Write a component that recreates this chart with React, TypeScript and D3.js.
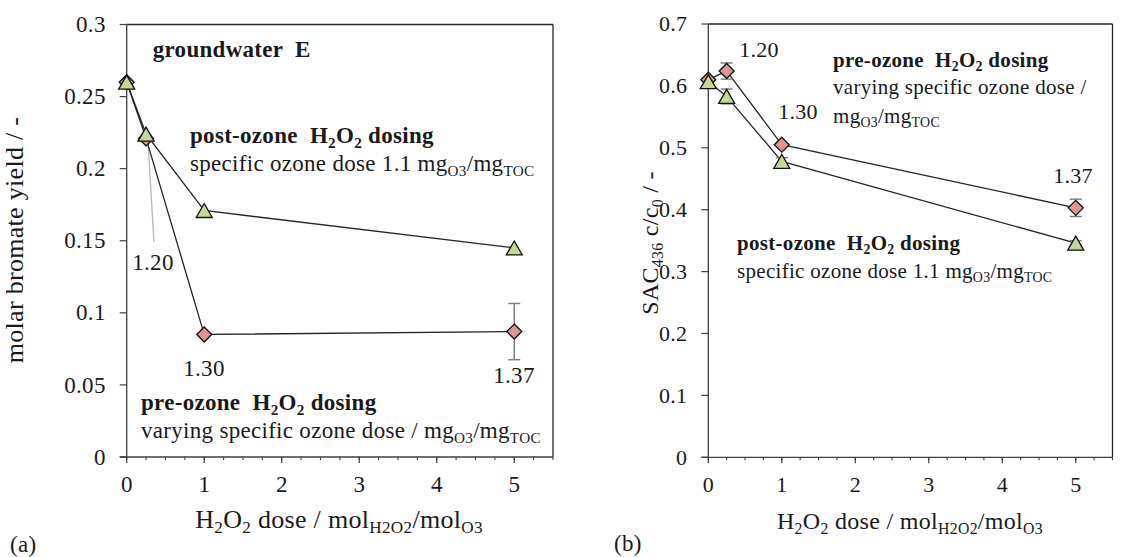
import React from "react";
import * as d3 from "d3";

// ---------- data ----------
const doseX = [0, 0.25, 1, 5];

// (a) molar bromate yield
const bromatePost = [0.26, 0.224, 0.171, 0.145];
const bromatePre = [0.26, 0.221, 0.085, 0.087];
const bromatePreErr = [0, 0, 0, 0.0195];

// (b) SAC436 c/c0
const sacPost = [0.607, 0.583, 0.478, 0.346];
const sacPostErr = [0, 0.012, 0.006, 0.004];
const sacPre = [0.61, 0.624, 0.505, 0.403];
const sacPreErr = [0, 0.013, 0, 0.014];

// specific ozone dose labels for the pre-ozone series
const ozoneDoseLabels = ["1.20", "1.30", "1.37"];

const xTicks = [0, 1, 2, 3, 4, 5];
const xMinorTicks = d3.range(0, 5.5001, 0.25);
const yTicksA = [0, 0.05, 0.1, 0.15, 0.2, 0.25, 0.3];
const yTickLabelsA = ["0", "0.05", "0.1", "0.15", "0.2", "0.25", "0.3"];
const yTicksB = [0, 0.1, 0.2, 0.3, 0.4, 0.5, 0.6, 0.7];
const yTickLabelsB = ["0", "0.1", "0.2", "0.3", "0.4", "0.5", "0.6", "0.7"];

// ---------- style ----------
const FONT = "Liberation Serif";
const TRI_FILL = "#c4d79b";
const DIA_FILL = "#da9694";
const LINE = "#262626";
const AXIS = "#404040";
const ERR = "#808080";
const TXT_A = 23; // panel (a) text size
const TITLE_A = 26;
const TXT_B = 21; // panel (b) text size
const TITLE_B = 24;

type Seg = { t: string; sub?: boolean };

function Rich({ x, y, segs, size, bold, anchor = "start", transform, spacing = 0.3 }: {
  x: number; y: number; segs: Seg[]; size: number; bold?: boolean; anchor?: string; transform?: string; spacing?: number;
}) {
  return (
    <text x={x} y={y} textAnchor={anchor} fill="#1a1a1a" transform={transform}
      style={{ fontFamily: FONT, fontSize: size, fontWeight: bold ? 700 : 400, whiteSpace: "pre", letterSpacing: spacing }}>
      {segs.map((s, i) => (
        <tspan key={i} baselineShift={s.sub ? -size * 0.2 : 0} style={{ fontSize: s.sub ? size * 0.66 : size }}>
          {s.t}
        </tspan>
      ))}
    </text>
  );
}

const h2o2: Seg[] = [{ t: "H" }, { t: "2", sub: true }, { t: "O" }, { t: "2", sub: true }];
const xTitle: Seg[] = [...h2o2, { t: " dose / mol" }, { t: "H2O2", sub: true }, { t: "/mol" }, { t: "O3", sub: true }];
const mgUnit: Seg[] = [{ t: "mg" }, { t: "O3", sub: true }, { t: "/mg" }, { t: "TOC", sub: true }];

function triPath(cx: number, cy: number) {
  const w = 8, h = 7;
  return `M${cx},${cy - h}L${cx + w},${cy + h}L${cx - w},${cy + h}Z`;
}
function diaPath(cx: number, cy: number) {
  const r = 7.5;
  return `M${cx},${cy - r}L${cx + r},${cy}L${cx},${cy + r}L${cx - r},${cy}Z`;
}

function Panel({ xr, yr, yMax, yTicks, yLabels, post, pre, postErr, preErr, tickSize, children }: any) {
  const x = d3.scaleLinear().domain([0, 5.5]).range(xr);
  const y = d3.scaleLinear().domain([0, yMax]).range(yr);
  const line = d3.line<number>().x((_, i) => x(doseX[i])).y((v) => y(v));
  const errBar = (vals: number[], errs: number[], key: string) =>
    vals.map((v, i) =>
      errs[i] > 0 ? (
        <g key={key + i} stroke={ERR} strokeWidth={1.5}>
          <line x1={x(doseX[i])} x2={x(doseX[i])} y1={y(v - errs[i])} y2={y(v + errs[i])} />
          <line x1={x(doseX[i]) - 6} x2={x(doseX[i]) + 6} y1={y(v - errs[i])} y2={y(v - errs[i])} />
          <line x1={x(doseX[i]) - 6} x2={x(doseX[i]) + 6} y1={y(v + errs[i])} y2={y(v + errs[i])} />
        </g>
      ) : null
    );
  return (
    <g>
      {/* plot frame */}
      <line x1={xr[0]} x2={xr[1]} y1={yr[1]} y2={yr[1]} stroke={LINE} strokeWidth={1.3} />
      <line x1={xr[1]} x2={xr[1]} y1={yr[1]} y2={yr[0]} stroke={LINE} strokeWidth={1.3} />
      {/* y axis */}
      <line x1={xr[0]} x2={xr[0]} y1={yr[0]} y2={yr[1]} stroke={AXIS} strokeWidth={1.3} />
      {yTicks.map((t: number, i: number) => (
        <g key={"y" + i}>
          <line x1={xr[0] - 7} x2={xr[0]} y1={y(t)} y2={y(t)} stroke={AXIS} strokeWidth={1.2} />
          <text x={xr[0] - 21} y={y(t) + tickSize * 0.33} textAnchor="end" fill="#1a1a1a"
            style={{ fontFamily: FONT, fontSize: tickSize, letterSpacing: 0.3 }}>
            {yLabels[i]}
          </text>
        </g>
      ))}
      {/* x axis */}
      <line x1={xr[0] - 7} x2={xr[1]} y1={yr[0]} y2={yr[0]} stroke={AXIS} strokeWidth={1.3} />
      {xMinorTicks.map((t, i) => (
        <line key={"xm" + i} x1={x(t)} x2={x(t)} y1={yr[0]} y2={yr[0] + 3} stroke={AXIS} strokeWidth={1.1} />
      ))}
      {xTicks.map((t) => (
        <g key={"x" + t}>
          <line x1={x(t)} x2={x(t)} y1={yr[0]} y2={yr[0] + 6} stroke={AXIS} strokeWidth={1.2} />
          <text x={x(t)} y={yr[0] + 35} textAnchor="middle" fill="#1a1a1a"
            style={{ fontFamily: FONT, fontSize: tickSize }}>
            {t}
          </text>
        </g>
      ))}
      {children && children(x, y)}
      {/* series */}
      <path d={line(pre) || ""} fill="none" stroke={LINE} strokeWidth={1.3} />
      <path d={line(post) || ""} fill="none" stroke={LINE} strokeWidth={1.3} />
      {errBar(pre, preErr, "pe")}
      {errBar(post, postErr, "po")}
      {pre.map((v: number, i: number) => (
        <path key={"d" + i} d={diaPath(x(doseX[i]), y(v))} fill={DIA_FILL} stroke="#111" strokeWidth={1.3} />
      ))}
      {post.map((v: number, i: number) => (
        <path key={"t" + i} d={triPath(x(doseX[i]), y(v))} fill={TRI_FILL} stroke="#111" strokeWidth={1.3} />
      ))}
    </g>
  );
}

export default function App() {
  const xrA = [126.7, 553];
  const yrA = [457, 24.5];
  const xrB = [708.3, 1112.5];
  const yrB = [457.3, 24];
  return (
    <svg width={1148} height={557} style={{ position: "absolute", left: 0, top: 0, background: "#fff" }}>
      {/* ---- (a) bromate yield ---- */}
      <Panel xr={xrA} yr={yrA} yMax={0.3} yTicks={yTicksA} yLabels={yTickLabelsA} tickSize={23}
        post={bromatePost} pre={bromatePre} postErr={[0, 0, 0, 0]} preErr={bromatePreErr}>
        {(x: any, y: any) => (
          <line x1={x(0.275)} y1={y(0.2184)} x2={x(0.352)} y2={y(0.149)} stroke="#b8b8b8" strokeWidth={1.3} />
        )}
      </Panel>
      <Rich x={152.7} y={57} size={TXT_A} bold segs={[{ t: "groundwater  E" }]} />
      <Rich x={190} y={143} size={TXT_A} bold segs={[{ t: "post-ozone  " }, ...h2o2, { t: " dosing" }]} />
      <Rich x={190} y={171} size={TXT_A} segs={[{ t: "specific ozone dose 1.1 " }, ...mgUnit]} />
      <Rich x={141} y={410} size={TXT_A} bold segs={[{ t: "pre-ozone  " }, ...h2o2, { t: " dosing" }]} />
      <Rich x={141} y={438} size={TXT_A} segs={[{ t: "varying specific ozone dose / " }, ...mgUnit]} />
      <Rich x={153} y={270} size={TXT_A} anchor="middle" segs={[{ t: ozoneDoseLabels[0] }]} />
      <Rich x={204} y={376} size={TXT_A} anchor="middle" segs={[{ t: ozoneDoseLabels[1] }]} />
      <Rich x={514} y={383} size={TXT_A} anchor="middle" segs={[{ t: ozoneDoseLabels[2] }]} />
      <Rich x={23} y={240} size={TITLE_A} anchor="middle" transform="rotate(-90 23 240)"
        segs={[{ t: "molar bromate yield / -" }]} />
      <Rich x={339} y={528} size={TITLE_A} anchor="middle" segs={xTitle} />
      <Rich x={10} y={552} size={TXT_A} segs={[{ t: "(a)" }]} />

      {/* ---- (b) SAC436 ---- */}
      <Panel xr={xrB} yr={yrB} yMax={0.7} yTicks={yTicksB} yLabels={yTickLabelsB} tickSize={22}
        post={sacPost} pre={sacPre} postErr={sacPostErr} preErr={sacPreErr} />
      <Rich x={759} y={57} size={22} anchor="middle" segs={[{ t: ozoneDoseLabels[0] }]} />
      <Rich x={798} y={119} size={22} anchor="middle" segs={[{ t: ozoneDoseLabels[1] }]} />
      <Rich x={1073} y={183} size={22} anchor="middle" segs={[{ t: ozoneDoseLabels[2] }]} />
      <Rich x={833} y={67} size={TXT_B} bold segs={[{ t: "pre-ozone  " }, ...h2o2, { t: " dosing" }]} />
      <Rich x={833} y={94} size={TXT_B} segs={[{ t: "varying specific ozone dose /" }]} />
      <Rich x={833} y={123} size={TXT_B} segs={mgUnit} />
      <Rich x={737} y={250} size={TXT_B} bold segs={[{ t: "post-ozone  " }, ...h2o2, { t: " dosing" }]} />
      <Rich x={737} y={278} size={TXT_B} segs={[{ t: "specific ozone dose 1.1 " }, ...mgUnit]} />
      <Rich x={658} y={243} size={TITLE_B} anchor="middle" transform="rotate(-90 658 243)"
        segs={[{ t: "SAC" }, { t: "436", sub: true }, { t: " c/c" }, { t: "0", sub: true }, { t: " / -" }]} />
      <Rich x={910} y={529} size={TITLE_B} anchor="middle" segs={xTitle} />
      <Rich x={614} y={551} size={TXT_A} segs={[{ t: "(b)" }]} />
    </svg>
  );
}
